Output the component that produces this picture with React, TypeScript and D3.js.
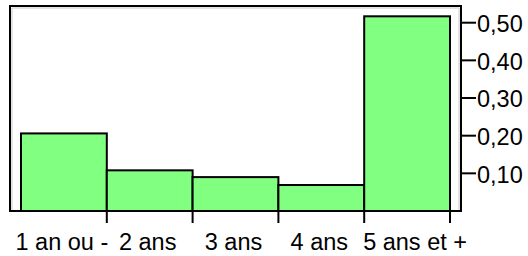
import React, { useRef, useEffect } from 'react';
import * as d3 from 'd3';

const categories = ['1 an ou -', '2 ans', '3 ans', '4 ans', '5 ans et +'];
const values = [0.206, 0.108, 0.09, 0.069, 0.517];
const y_ticks = [0.1, 0.2, 0.3, 0.4, 0.5];
const y_tick_labels = ['0,10', '0,20', '0,30', '0,40', '0,50'];

export default function App() {
    const wrapper_ref = useRef(null);

    useEffect(() => {
        const wrapper_element = d3.select(wrapper_ref.current);
        wrapper_element.selectAll('*').remove();

        const width = 528;
        const height = 256;
        const frame = { left: 10, top: 6, right: 461, bottom: 211 };
        const font = 'Arial, "Liberation Sans", sans-serif';
        const font_size = 23.5;

        const x = d3.scaleBand().domain(categories).range([21, 450]).padding(0);
        const y = d3.scaleLinear([0, 0.5], [frame.bottom, 22.7]);

        const svg = wrapper_element
            .append('svg')
            .attr('width', width)
            .attr('height', height)
            .style('position', 'absolute')
            .style('left', 0)
            .style('top', 0)
            .style('background', '#fff');

        // inner light shadow line
        svg.append('path')
            .attr('d', `M${frame.left + 2},${frame.bottom} V${frame.top + 2} H${frame.right - 2} V${frame.bottom}`)
            .attr('fill', 'none')
            .attr('stroke', '#c8c8c8')
            .attr('stroke-width', 1);

        svg.append('g')
            .selectAll('rect')
            .data(values)
            .join('rect')
            .attr('x', (_, i) => x(categories[i]))
            .attr('y', (d) => y(d))
            .attr('width', x.bandwidth())
            .attr('height', (d) => y(0) - y(d))
            .attr('fill', '#80ff80')
            .attr('stroke', '#000')
            .attr('stroke-width', 2);

        svg.append('rect')
            .attr('x', frame.left)
            .attr('y', frame.top)
            .attr('width', frame.right - frame.left)
            .attr('height', frame.bottom - frame.top)
            .attr('fill', 'none')
            .attr('stroke', '#000')
            .attr('stroke-width', 2);

        // x ticks at bin right edges
        svg.append('g')
            .selectAll('line')
            .data(categories)
            .join('line')
            .attr('x1', (d) => x(d) + x.bandwidth())
            .attr('x2', (d) => x(d) + x.bandwidth())
            .attr('y1', frame.bottom)
            .attr('y2', frame.bottom + 12)
            .attr('stroke', '#000')
            .attr('stroke-width', 2);

        // last label is kept flush with the end of the axis
        const last = categories.length - 1;
        svg.append('g')
            .selectAll('text')
            .data(categories)
            .join('text')
            .attr('x', (d, i) => (i === last ? frame.right + 6 : x(d) + x.bandwidth() / 2 - 2))
            .attr('y', 250)
            .attr('text-anchor', (_, i) => (i === last ? 'end' : 'middle'))
            .attr('font-family', font)
            .attr('font-size', font_size)
            .text((d) => d);

        const y_axis = svg.append('g');
        y_axis.selectAll('line')
            .data(y_ticks)
            .join('line')
            .attr('x1', frame.right)
            .attr('x2', frame.right + 15)
            .attr('y1', (d) => y(d))
            .attr('y2', (d) => y(d))
            .attr('stroke', '#000')
            .attr('stroke-width', 2);
        y_axis.selectAll('text')
            .data(y_ticks)
            .join('text')
            .attr('x', 477)
            .attr('y', (d) => y(d))
            .attr('dy', '0.4em')
            .attr('font-family', font)
            .attr('font-size', font_size)
            .text((_, i) => y_tick_labels[i]);
    }, []);

    return <div ref={wrapper_ref}></div>;
}
